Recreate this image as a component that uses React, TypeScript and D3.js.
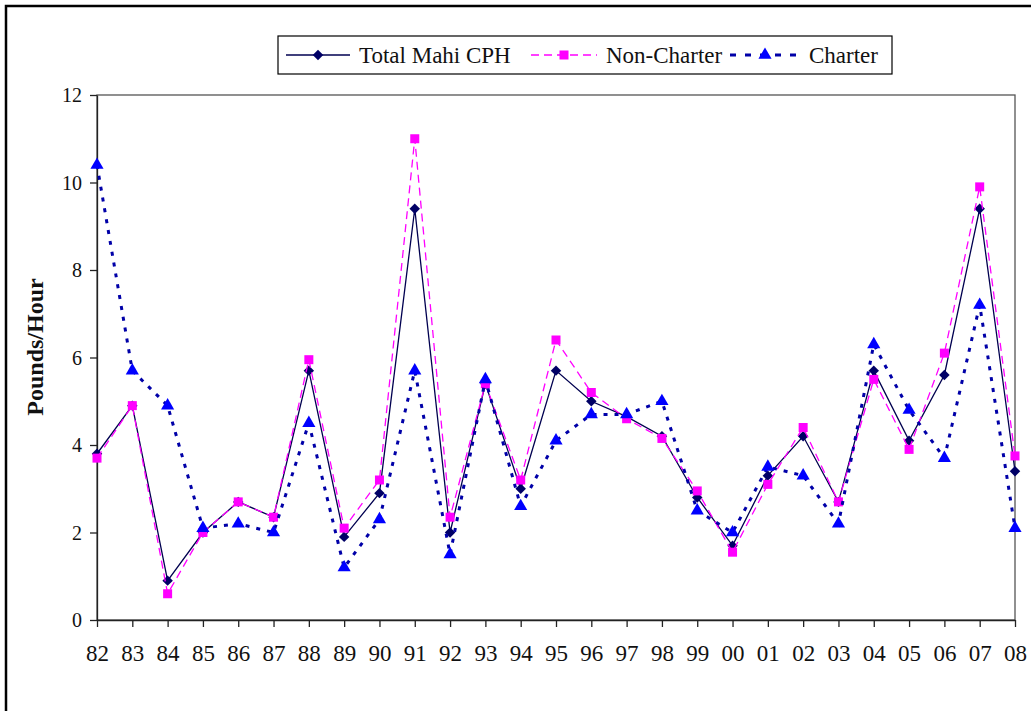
import React, { useEffect, useRef } from "react";
import * as d3 from "d3";

const years = [
  "82", "83", "84", "85", "86", "87", "88", "89", "90", "91", "92", "93", "94",
  "95", "96", "97", "98", "99", "00", "01", "02", "03", "04", "05", "06", "07", "08",
];

const totalCph = [
  3.8, 4.9, 0.9, 2.0, 2.7, 2.35, 5.7, 1.9, 2.9, 9.4, 2.0, 5.4, 3.0,
  5.7, 5.0, 4.65, 4.2, 2.8, 1.7, 3.3, 4.2, 2.7, 5.7, 4.1, 5.6, 9.4, 3.4,
];

const nonCharter = [
  3.7, 4.9, 0.6, 2.0, 2.7, 2.35, 5.95, 2.1, 3.2, 11.0, 2.35, 5.4, 3.2,
  6.4, 5.2, 4.6, 4.15, 2.95, 1.55, 3.1, 4.4, 2.7, 5.5, 3.9, 6.1, 9.9, 3.75,
];

const charter = [
  10.4, 5.7, 4.9, 2.1, 2.2, 2.0, 4.5, 1.2, 2.3, 5.7, 1.5, 5.5, 2.6,
  4.1, 4.7, 4.7, 5.0, 2.5, 2.0, 3.5, 3.3, 2.2, 6.3, 4.8, 3.7, 7.2, 2.1,
];

const yTicks = [0, 2, 4, 6, 8, 10, 12];

const W = 1031;
const H = 711;
const serif = "'Liberation Serif', 'Times New Roman', serif";

export default function App() {
  const svgRef = useRef<SVGSVGElement>(null);

  useEffect(() => {
    if (!svgRef.current) return;
    const svg = d3.select(svgRef.current);
    svg.selectAll("*").remove();

    const left = 97;
    const right = 1015;
    const top = 95;
    const bottom = 620;

    const x = d3.scalePoint<string>().domain(years).range([left, right]);
    const y = d3.scaleLinear().domain([0, 12]).range([bottom, top]);

    // outer frame
    svg.append("rect")
      .attr("x", 6).attr("y", 6)
      .attr("width", 1200).attr("height", 900)
      .attr("fill", "white")
      .attr("stroke", "black")
      .attr("stroke-width", 2.5);

    // plot area box
    svg.append("rect")
      .attr("x", left).attr("y", top)
      .attr("width", right - left).attr("height", bottom - top)
      .attr("fill", "none")
      .attr("stroke", "#555")
      .attr("stroke-width", 1.3);

    // y axis
    const yAxis = svg.append("g")
      .attr("transform", `translate(${left},0)`)
      .call(d3.axisLeft(y).tickValues(yTicks).tickSize(7).tickSizeOuter(0).tickFormat(d3.format("d")));
    yAxis.select(".domain").attr("stroke", "#222").attr("stroke-width", 1.3);
    yAxis.selectAll(".tick line").attr("stroke", "#222").attr("stroke-width", 1.3);
    yAxis.selectAll(".tick text")
      .attr("x", -15)
      .attr("dy", "0.34em")
      .attr("fill", "#111")
      .attr("font-family", serif)
      .attr("font-size", "20px");

    // x axis
    const xAxis = svg.append("g")
      .attr("transform", `translate(0,${bottom})`)
      .call(d3.axisBottom(x).tickSize(7).tickSizeOuter(0));
    xAxis.select(".domain").attr("stroke", "#222").attr("stroke-width", 1.3);
    xAxis.selectAll(".tick line").attr("stroke", "#222").attr("stroke-width", 1.3);
    xAxis.selectAll(".tick text")
      .attr("y", 25)
      .attr("dy", "0.71em")
      .attr("fill", "#111")
      .attr("font-family", serif)
      .attr("font-size", "23px");

    svg.selectAll(".domain").attr("fill", "none");

    // y title
    svg.append("text")
      .attr("transform", `translate(43,347) rotate(-90)`)
      .attr("text-anchor", "middle")
      .attr("font-family", serif)
      .attr("font-weight", "bold")
      .attr("font-size", "24px")
      .attr("fill", "#111")
      .text("Pounds/Hour");

    const line = d3.line<number>()
      .x((_, i) => x(years[i]) as number)
      .y((d) => y(d));

    const diamond = d3.symbol().type(d3.symbolDiamond2).size(70);
    const triangle = d3.symbol().type(d3.symbolTriangle).size(75);

    // Total Mahi CPH
    svg.append("path")
      .datum(totalCph)
      .attr("fill", "none")
      .attr("stroke", "#000050")
      .attr("stroke-width", 1.3)
      .attr("d", line);
    svg.selectAll(".dia")
      .data(totalCph)
      .enter()
      .append("path")
      .attr("class", "dia")
      .attr("transform", (d, i) => `translate(${x(years[i])},${y(d)})`)
      .attr("d", diamond())
      .attr("fill", "#000066");

    // Non-Charter
    svg.append("path")
      .datum(nonCharter)
      .attr("fill", "none")
      .attr("stroke", "#ff00ff")
      .attr("stroke-width", 1.3)
      .attr("stroke-dasharray", "8 5")
      .attr("d", line);
    svg.selectAll(".sq")
      .data(nonCharter)
      .enter()
      .append("rect")
      .attr("class", "sq")
      .attr("x", (d, i) => (x(years[i]) as number) - 4.5)
      .attr("y", (d) => y(d) - 4.5)
      .attr("width", 9)
      .attr("height", 9)
      .attr("fill", "#ff00ff");

    // Charter
    svg.append("path")
      .datum(charter)
      .attr("fill", "none")
      .attr("stroke", "#0000a8")
      .attr("stroke-width", 3)
      .attr("stroke-dasharray", "4 7")
      .attr("d", line);
    svg.selectAll(".tri")
      .data(charter)
      .enter()
      .append("path")
      .attr("class", "tri")
      .attr("transform", (d, i) => `translate(${x(years[i])},${y(d)})`)
      .attr("d", triangle())
      .attr("fill", "#0000ff");

    // legend
    const lg = svg.append("g");
    lg.append("rect")
      .attr("x", 278).attr("y", 36)
      .attr("width", 614).attr("height", 38)
      .attr("fill", "white")
      .attr("stroke", "black")
      .attr("stroke-width", 1.2);

    const ly = 55;
    const items = [
      { label: "Total Mahi CPH", x0: 286, x1: 350, color: "#000050", width: 1.3, dash: null as string | null, mark: "dia" },
      { label: "Non-Charter", x0: 531, x1: 597, color: "#ff00ff", width: 1.3, dash: "8 5", mark: "sq" },
      { label: "Charter", x0: 730, x1: 800, color: "#0000a8", width: 3, dash: "6 9", mark: "tri" },
    ];
    items.forEach((it) => {
      const ln = lg.append("line")
        .attr("x1", it.x0).attr("x2", it.x1)
        .attr("y1", ly).attr("y2", ly)
        .attr("stroke", it.color)
        .attr("stroke-width", it.width);
      if (it.dash) ln.attr("stroke-dasharray", it.dash);
      const cx = (it.x0 + it.x1) / 2;
      if (it.mark === "dia") {
        lg.append("path").attr("transform", `translate(${cx},${ly})`).attr("d", diamond()).attr("fill", "#000066");
      } else if (it.mark === "sq") {
        lg.append("rect").attr("x", cx - 4.5).attr("y", ly - 4.5).attr("width", 9).attr("height", 9).attr("fill", "#ff00ff");
      } else {
        lg.append("path").attr("transform", `translate(${cx},${ly})`).attr("d", triangle()).attr("fill", "#0000ff");
      }
      lg.append("text")
        .attr("x", it.x1 + 9)
        .attr("y", ly)
        .attr("dy", "0.35em")
        .attr("font-family", serif)
        .attr("font-size", "23px")
        .attr("fill", "#111")
        .text(it.label);
    });
  }, []);

  return (
    <svg
      ref={svgRef}
      width={W}
      height={H}
      style={{ position: "absolute", left: 0, top: 0, display: "block", background: "white" }}
    />
  );
}
